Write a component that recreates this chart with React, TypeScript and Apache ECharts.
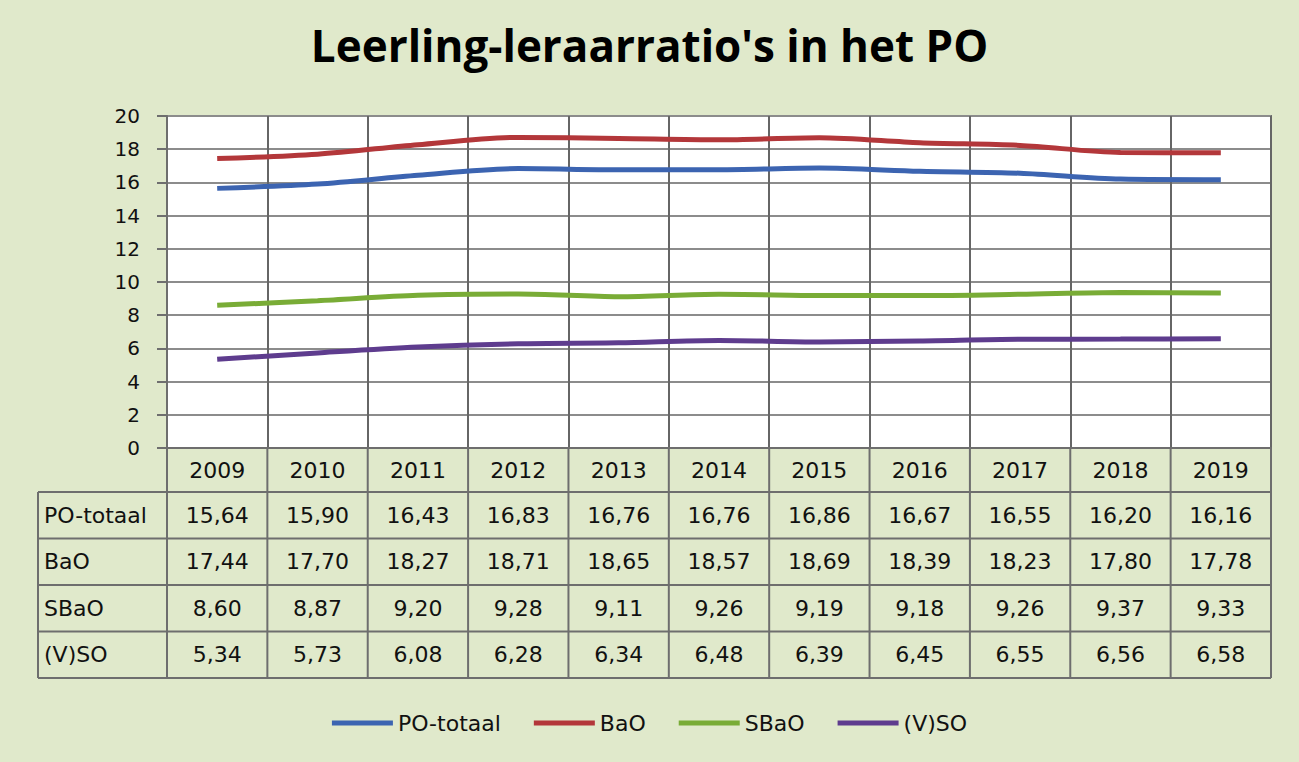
import React, { useEffect, useRef } from "react";
import * as echarts from "echarts";

const years = ["2009", "2010", "2011", "2012", "2013", "2014", "2015", "2016", "2017", "2018", "2019"];
const seriesNames = ["PO-totaal", "BaO", "SBaO", "(V)SO"];
const poTotaal = [15.64, 15.9, 16.43, 16.83, 16.76, 16.76, 16.86, 16.67, 16.55, 16.2, 16.16];
const bao = [17.44, 17.7, 18.27, 18.71, 18.65, 18.57, 18.69, 18.39, 18.23, 17.8, 17.78];
const sbao = [8.6, 8.87, 9.2, 9.28, 9.11, 9.26, 9.19, 9.18, 9.26, 9.37, 9.33];
const vso = [5.34, 5.73, 6.08, 6.28, 6.34, 6.48, 6.39, 6.45, 6.55, 6.56, 6.58];
const seriesColors = ["#3C64B1", "#B3373A", "#79AC36", "#5E3C8E"];
const yMin = 0;
const yMax = 20;
const yInterval = 2;

const seriesData = [poTotaal, bao, sbao, vso];

const BG = "#E0E9CB";
const LINE = "#6E6E6E";
const FONT = "DejaVu Sans";

// layout
const W = 1299;
const H = 762;
const GL = 167;
const GR = 1271;
const GT = 116;
const GB = 448;
const TL = 38;
const HEADER_BOTTOM = 492;
const ROW_H = 46.5;

const fmt = (v: number) => v.toFixed(2).replace(".", ",");

export default function App() {
  const ref = useRef<HTMLDivElement>(null);
  useEffect(() => {
    if (!ref.current) return;
    const chart = echarts.init(ref.current, undefined, { renderer: "svg" });
    const nCat = years.length;
    const colW = (GR - GL) / nCat;
    const tableBottom = HEADER_BOTTOM + ROW_H * seriesData.length;

    const graphics: any[] = [];
    const ln = (x1: number, y1: number, x2: number, y2: number) => ({
      type: "line",
      shape: { x1, y1, x2, y2 },
      style: { stroke: LINE, lineWidth: 2 },
      silent: true,
    });
    for (let i = 0; i <= nCat; i++) {
      const x = GL + i * colW;
      graphics.push(ln(x, GB, x, tableBottom));
    }
    graphics.push(ln(TL, HEADER_BOTTOM, TL, tableBottom));
    for (let r = 0; r <= seriesData.length; r++) {
      const y = HEADER_BOTTOM + r * ROW_H;
      graphics.push(ln(TL, y, GR, y));
    }
    seriesNames.forEach((name, r) => {
      graphics.push({
        type: "text",
        x: TL + 6,
        y: HEADER_BOTTOM + r * ROW_H + ROW_H / 2,
        style: {
          text: name,
          fill: "#111",
          font: `22px "${FONT}"`,
          verticalAlign: "middle",
        },
        silent: true,
      });
    });

    const valueAxes = seriesData.map((arr, k) => ({
      type: "category",
      gridIndex: 0,
      position: "bottom",
      offset: HEADER_BOTTOM + k * ROW_H + ROW_H / 2 - GB - 22,
      data: years,
      axisLine: { show: false },
      axisTick: { show: false },
      splitLine: { show: false },
      axisLabel: {
        interval: 0,
        margin: 22,
        verticalAlign: "middle",
        fontFamily: FONT,
        fontSize: 22,
        color: "#111",
        formatter: (_v: string, i: number) => fmt(arr[i]),
      },
    }));

    chart.setOption({
      animation: false,
      backgroundColor: BG,
      title: {
        text: "Leerling-leraarratio's in het PO",
        left: "center",
        top: 18,
        textStyle: { fontFamily: "Open Sans", fontWeight: "bold", fontSize: 44, color: "#000" },
      },
      legend: {
        data: seriesNames,
        left: "center",
        top: 707,
        icon: "rect",
        itemWidth: 61,
        itemHeight: 5,
        itemGap: 33,
        textStyle: { fontFamily: FONT, fontSize: 22, color: "#111" },
      },
      grid: {
        left: GL,
        top: GT,
        width: GR - GL,
        height: GB - GT,
        show: true,
        backgroundColor: "#fff",
        borderColor: LINE,
        borderWidth: 2,
      },
      xAxis: [
        {
          type: "category",
          data: years,
          boundaryGap: true,
          axisLine: { show: true, lineStyle: { color: LINE, width: 2 } },
          axisTick: { show: false },
          splitLine: { show: true, interval: 0, lineStyle: { color: "#666", width: 2 } },
          axisLabel: {
            interval: 0,
            margin: 22,
            verticalAlign: "middle",
            fontFamily: FONT,
            fontSize: 22,
            color: "#111",
          },
        },
        ...valueAxes,
      ],
      yAxis: {
        type: "value",
        min: yMin,
        max: yMax,
        interval: yInterval,
        axisLine: { show: true, lineStyle: { color: LINE, width: 2 } },
        axisTick: { show: true, length: 10, lineStyle: { color: LINE, width: 2 } },
        splitLine: { show: true, lineStyle: { color: "#8C8C8C", width: 2 } },
        axisLabel: { margin: 27, fontFamily: FONT, fontSize: 20, color: "#111" },
      },
      series: seriesNames.map((name, k) => ({
        name,
        type: "line",
        data: seriesData[k],
        smooth: 0.3,
        symbol: "none",
        showSymbol: false,
        lineStyle: { width: 5, color: seriesColors[k] },
        itemStyle: { color: seriesColors[k] },
      })),
      graphic: graphics,
    });
    return () => chart.dispose();
  }, []);
  return <div ref={ref} style={{ position: "absolute", left: 0, top: 0, width: W, height: H }} />;
}
